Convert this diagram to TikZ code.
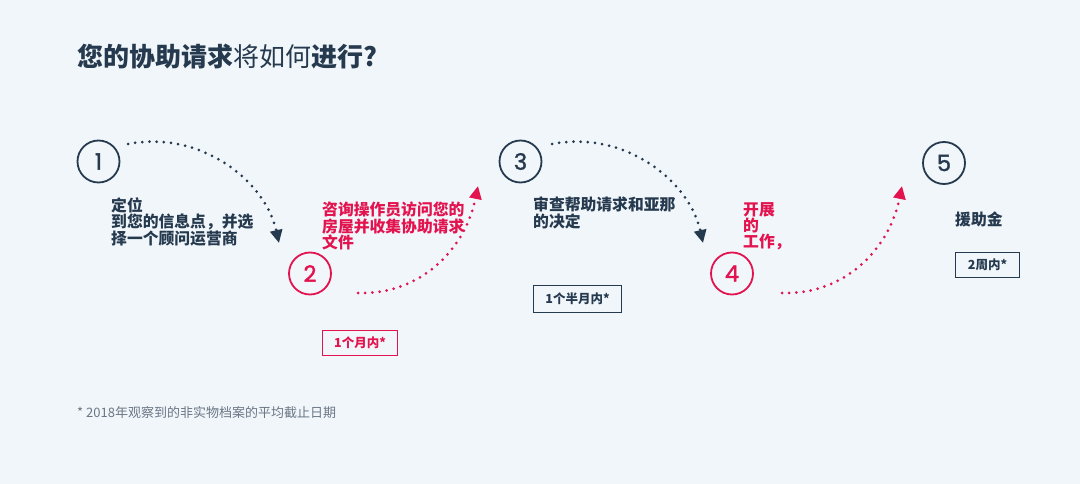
\documentclass[tikz,border=0pt]{standalone}
\usepackage{fontspec}
\setmainfont{Noto Sans CJK SC}
\newfontfamily\digitfont[FakeBold=1.6]{Poppins}
\usetikzlibrary{arrows.meta}
\definecolor{bg}{HTML}{F1F6FA}
\definecolor{navy}{HTML}{263A4F}
\definecolor{crim}{HTML}{E2134E}
\definecolor{footgray}{HTML}{6B7785}
\begin{document}
\begin{tikzpicture}[x=1pt,y=-1pt,
 stepcircle/.style={circle,draw,line width=1.8pt,minimum size=42pt,inner sep=0pt,font=\digitfont\fontsize{22.5}{22.5}\selectfont},
 desc/.style={anchor=north west,inner sep=0pt,align=left,font=\bfseries\fontsize{15.8}{14.5}\selectfont},
 timebox/.style={draw,line width=1.2pt,inner sep=0pt,anchor=north west,font=\bfseries\fontsize{12.5}{12.5}\selectfont},
 dotarrow/.style={line width=3pt,line cap=round,dash pattern=on 0pt off 7.2pt,-{Triangle[length=13pt,width=12pt]}}
]
\useasboundingbox (0,0) rectangle (1080,484);
\fill[bg] (0,0) rectangle (1080,484);

% title
\node[anchor=west,inner sep=0pt,navy,font=\fontsize{26}{26}\selectfont] (title) at (77,57)
 {{\bfseries 您的协助请求}将如何{\bfseries 进行?}};

% circles
\node[stepcircle,navy] (c1) at (98.5,161.5) {1};
\node[stepcircle,crim] (c2) at (310,273.5) {2};
\node[stepcircle,navy] (c3) at (520.5,161.5) {3};
\node[stepcircle,crim] (c4) at (732,273.5) {4};
\node[stepcircle,navy] (c5) at (944,163) {5};

% descriptions
\node[desc,navy] (d1) at (111,197) {定位\\到您的信息点，并选\\择一个顾问运营商};
\node[desc,crim] (d2) at (322,202) {咨询操作员访问您的\\房屋并收集协助请求\\文件};
\node[desc,navy] (d3) at (533,197) {审查帮助请求和亚那\\的决定};
\node[desc,crim] (d4) at (743,202) {开展\\的\\工作，};
\node[desc,navy] (d5) at (955,212) {援助金};

% time boxes
\node[timebox,crim,minimum width=75pt,minimum height=25pt] (t2) at (322,330) {1个月内*};
\node[timebox,navy,minimum width=88pt,minimum height=27pt] (t3) at (533,285) {1个半月内*};
\node[timebox,navy,minimum width=64pt,minimum height=25pt] (t5) at (955,252) {2周内*};

% arrows
\coordinate (s1) at (128,144); \coordinate (e1) at (279,243);
\coordinate (s2) at (358,293); \coordinate (e2) at (478,186);
\coordinate (s3) at (552,144); \coordinate (e3) at (703,243);
\coordinate (s4) at (782,293); \coordinate (e4) at (902,186);
\draw[dotarrow,navy] (s1) .. controls (200,130) and (265,180) .. (e1);
\draw[dotarrow,crim] (s2) .. controls (420,295) and (465,250) .. (e2);
\draw[dotarrow,navy] (s3) .. controls (624,130) and (689,180) .. (e3);
\draw[dotarrow,crim] (s4) .. controls (844,295) and (889,250) .. (e4);

% footnote
\node[anchor=west,inner sep=0pt,footgray,font=\fontsize{13}{13}\selectfont] (fn) at (77,413)
 {* 2018年观察到的非实物档案的平均截止日期};
\end{tikzpicture}
\end{document}
